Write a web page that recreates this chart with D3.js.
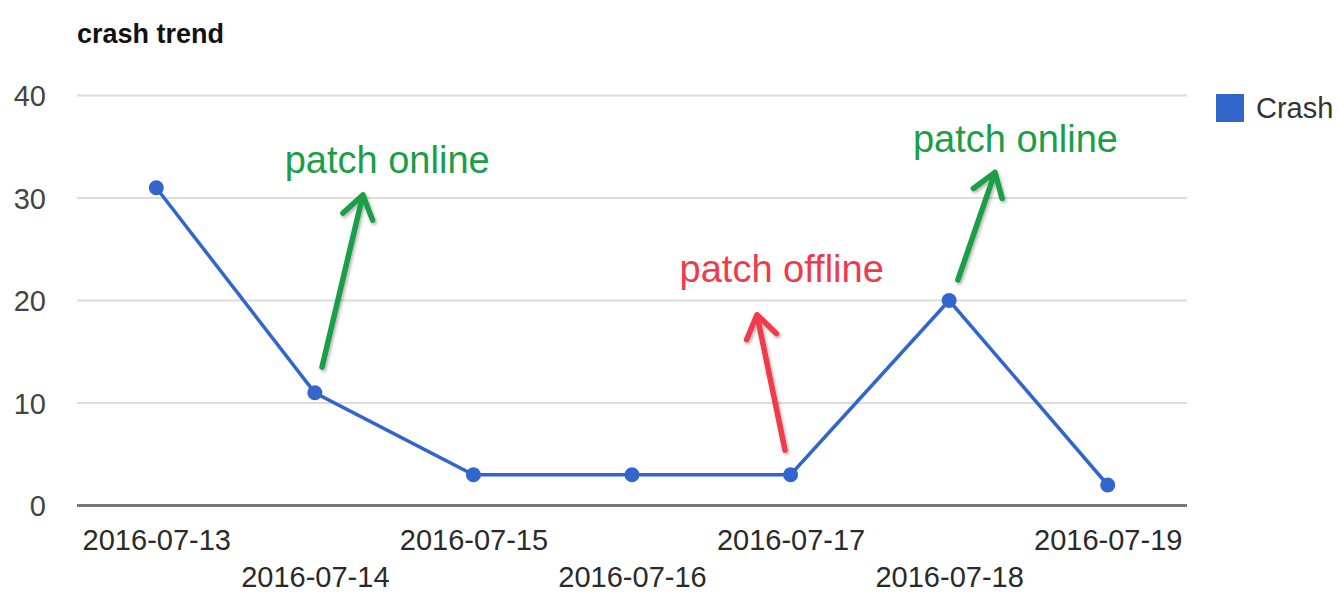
<!DOCTYPE html>
<html><head><meta charset="utf-8">
<script src="https://cdn.jsdelivr.net/npm/d3@7"></script>
<style>html,body{margin:0;padding:0;background:#fff;}svg{display:block;font-family:"Liberation Sans",Arial,Helvetica,sans-serif;}</style>
</head><body>
<script>
const categories = ["2016-07-13","2016-07-14","2016-07-15","2016-07-16","2016-07-17","2016-07-18","2016-07-19"];
const crash = [31, 11, 3, 3, 3, 20, 2];
const yTicks = [0, 10, 20, 30, 40];
const seriesName = "Crash";
const title = "crash trend";
// annotations in data space: fractional category index and value
const annoText = ["patch online", "patch offline", "patch online"];
const annoTextPos = [[0.81, 32.4], [3.30, 21.8], [4.772, 34.5]];
const annoTail = [[1.045, 13.5], [3.965, 5.4], [5.055, 22.0]];
const annoTip = [[1.303, 30.3], [3.788, 18.6], [5.289, 32.5]];
const annoColor = ["#1a9e47", "#f03a4c", "#1a9e47"];

(function () {
const W = 1338, H = 613;
const svg = d3.select("body").append("svg").attr("width", W).attr("height", H);
const defs = svg.append("defs");
const f = defs.append("filter").attr("id","sh").attr("x","-50%").attr("y","-50%").attr("width","200%").attr("height","200%");
f.append("feDropShadow").attr("dx",1.5).attr("dy",2).attr("stdDeviation",1.5).attr("flood-color","#000").attr("flood-opacity",0.3);

const pl = 77, pr = 1187, pt = 95.5, pb = 505.5;
const x = d3.scalePoint().domain(categories).range([pl, pr]).padding(0.5);
const y = d3.scaleLinear().domain([0, 40]).range([pb, pt]);
const xi = d3.scaleLinear().domain([0, categories.length - 1]).range([x(categories[0]), x(categories[categories.length - 1])]);

// title
svg.append("text").attr("x", 77).attr("y", 43).attr("font-size", 27).attr("font-weight", "bold").attr("fill", "#111").text(title);

// gridlines
svg.append("g").selectAll("line").data(yTicks.filter(d => d > 0)).join("line")
  .attr("x1", pl).attr("x2", pr).attr("y1", d => y(d)).attr("y2", d => y(d))
  .attr("stroke", "#dcdcdc").attr("stroke-width", 2);

// y axis labels
const yAxis = svg.append("g").attr("transform", `translate(46,0)`)
  .call(d3.axisLeft(y).tickValues(yTicks).tickSize(0).tickPadding(0));
yAxis.select(".domain").remove();
yAxis.selectAll("text").attr("font-size", 29).attr("fill", "#444").attr("font-family", "inherit").attr("dy", "0.36em");

// baseline
svg.append("line").attr("x1", pl).attr("x2", pr).attr("y1", y(0)).attr("y2", y(0))
  .attr("stroke", "#777").attr("stroke-width", 3);

// x axis labels (staggered)
const xAxis = svg.append("g").attr("transform", `translate(0,${pb})`)
  .call(d3.axisBottom(x).tickSize(0).tickPadding(0));
xAxis.select(".domain").remove();
xAxis.selectAll("text").attr("font-size", 29).attr("fill", "#2a2a2a").attr("font-family", "inherit")
  .attr("dy", null).attr("y", (d, i) => i % 2 === 0 ? 44 : 81);

// line
svg.append("path").datum(crash)
  .attr("d", d3.line().x((d, i) => x(categories[i])).y(d => y(d)))
  .attr("fill", "none").attr("stroke", "#3366cc").attr("stroke-width", 3.5);
svg.append("g").selectAll("circle").data(crash).join("circle")
  .attr("cx", (d, i) => x(categories[i])).attr("cy", d => y(d)).attr("r", 7.5).attr("fill", "#3366cc");

// legend
svg.append("rect").attr("x", 1216).attr("y", 94).attr("width", 28).attr("height", 28).attr("fill", "#3366cc");
svg.append("text").attr("x", 1256).attr("y", 118).attr("font-size", 29).attr("fill", "#333").text(seriesName);

// annotations
const ag = svg.append("g");
annoText.forEach((t, k) => {
  ag.append("text").attr("x", xi(annoTextPos[k][0])).attr("y", y(annoTextPos[k][1]))
    .attr("font-size", 38).attr("fill", annoColor[k]).text(t);
  const x1 = xi(annoTail[k][0]), y1 = y(annoTail[k][1]);
  const x2 = xi(annoTip[k][0]), y2 = y(annoTip[k][1]);
  const ang = Math.atan2(y2 - y1, x2 - x1);
  const L = 27, spread = 0.6;
  const h1 = [x2 - L * Math.cos(ang - spread), y2 - L * Math.sin(ang - spread)];
  const h2 = [x2 - L * Math.cos(ang + spread), y2 - L * Math.sin(ang + spread)];
  const g = ag.append("g").attr("filter", "url(#sh)").attr("stroke", annoColor[k]).attr("stroke-width", 5.5)
    .attr("stroke-linecap", "round").attr("stroke-linejoin", "round").attr("fill", "none");
  g.append("path").attr("d", `M${x1},${y1}L${x2},${y2}M${h1[0]},${h1[1]}L${x2},${y2}L${h2[0]},${h2[1]}`);
});
})();
</script>
</body></html>
